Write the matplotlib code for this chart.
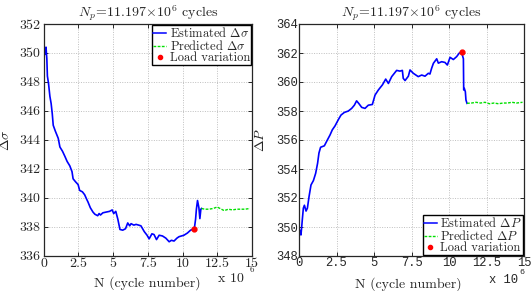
import matplotlib
matplotlib.use("Agg")
import matplotlib.pyplot as plt
from matplotlib.ticker import FixedLocator, FixedFormatter
from matplotlib.lines import Line2D

plt.rcParams['mathtext.fontset'] = 'cm'
plt.rcParams['font.family'] = 'cmr10'
plt.rcParams['axes.formatter.use_mathtext'] = True

# ---------------- data ----------------
title_text = r'$N_p\!=\!11.197\!\times\!10^6$ cycles'

xticks = [0, 2.5, 5, 7.5, 10, 12.5, 15]
xtick_labels = ['0', '2.5', '5', '7.5', '10', '12.5', '15']

# Left: stress range
est_s_x = [0.0, 0.07, 0.12, 0.18, 0.24, 0.28, 0.36, 0.46, 0.55, 0.63, 0.7, 0.85, 1.06, 1.18, 1.37,
           1.54, 1.7, 1.89, 2.05, 2.13, 2.3, 2.49, 2.6, 2.8, 2.96, 3.1, 3.2, 3.37, 3.56, 3.7,
           3.9, 4.0, 4.1, 4.27, 4.5, 4.75, 4.94, 5.05, 5.2, 5.35, 5.5, 5.7, 5.9, 6.06, 6.2,
           6.3, 6.5, 6.66, 6.85, 7.01, 7.25, 7.45, 7.6, 7.8, 7.95, 8.13, 8.32, 8.56, 8.8, 9.04,
           9.2, 9.39, 9.6, 9.75, 10.1, 10.35, 10.58, 10.85, 10.94, 11.0, 11.08, 11.18, 11.25,
           11.32, 11.37]
est_s_y = [350.0, 350.2, 349.9, 350.4, 349.6, 348.4, 347.9, 347.0, 346.5, 345.8, 345.0, 344.6,
           344.1, 343.5, 343.2, 342.85, 342.5, 342.2, 341.8, 341.3, 341.1, 340.9, 340.5, 340.4,
           340.2, 339.9, 339.7, 339.3, 339.0, 338.85, 338.75, 338.9, 338.8, 338.95, 339.0,
           339.05, 339.15, 338.9, 339.05, 338.5, 337.8, 337.75, 337.85, 338.25, 338.05, 338.2,
           338.1, 338.15, 338.1, 338.05, 337.65, 337.4, 337.15, 337.5, 337.45, 337.1, 337.4,
           337.35, 337.2, 336.95, 337.05, 337.0, 337.2, 337.3, 337.4, 337.55, 337.75, 337.85,
           338.5, 339.2, 339.8, 339.3, 338.55, 339.2, 339.25]
pred_s_x = [11.37, 11.6, 11.9, 12.2, 12.5, 12.8, 13.0, 13.3, 13.6, 13.9, 14.2, 14.5, 14.85]
pred_s_y = [339.25, 339.2, 339.2, 339.25, 339.35, 339.2, 339.1, 339.2, 339.15, 339.2, 339.2,
            339.2, 339.25]
load_s_x = [10.85]
load_s_y = [337.85]

# Right: load range
est_p_x = [0.0, 0.07, 0.13, 0.18, 0.22, 0.29, 0.36, 0.47, 0.56, 0.67, 0.8, 0.96, 1.11, 1.24,
           1.33, 1.44, 1.69, 1.84, 2.07, 2.22, 2.4, 2.62, 2.8, 3.02, 3.29, 3.51, 3.69, 3.84,
           4.0, 4.18, 4.4, 4.62, 4.89, 5.07, 5.29, 5.56, 5.78, 5.96, 6.18, 6.51, 6.73, 6.89,
           6.95, 7.07, 7.29, 7.4, 7.62, 7.95, 8.18, 8.4, 8.62, 8.73, 8.84, 8.96, 9.18, 9.29,
           9.51, 9.73, 9.89, 10.07, 10.29, 10.51, 10.69, 10.84, 10.96, 10.98, 11.02, 11.09,
           11.13, 11.2]
est_p_y = [349.9, 349.7, 349.45, 350.0, 350.5, 351.3, 351.5, 351.1, 351.3, 352.1, 352.9, 353.2,
           353.7, 354.4, 355.1, 355.5, 355.6, 355.9, 356.35, 356.7, 356.97, 357.4, 357.72,
           357.9, 358.0, 358.18, 358.4, 358.7, 358.5, 358.25, 358.18, 358.4, 358.45, 359.1,
           359.45, 359.8, 360.2, 359.9, 360.37, 360.8, 360.75, 360.8, 360.25, 360.1, 360.4,
           360.83, 360.6, 360.37, 360.48, 360.4, 360.6, 360.55, 360.94, 361.29, 361.6, 361.3,
           361.4, 361.35, 361.17, 361.7, 361.55, 361.75, 362.0, 362.05, 361.6, 359.45, 359.56,
           359.33, 358.76, 358.53]
pred_p_x = [11.2, 11.5, 11.8, 12.1, 12.4, 12.7, 13.0, 13.3, 13.6, 13.9, 14.2, 14.5, 14.9]
pred_p_y = [358.53, 358.55, 358.6, 358.55, 358.6, 358.5, 358.55, 358.5, 358.55, 358.55, 358.6,
            358.55, 358.6]
load_p_x = [10.84]
load_p_y = [362.05]

yticks_s = [336, 338, 340, 342, 344, 346, 348, 350, 352]
yticks_p = [348, 350, 352, 354, 356, 358, 360, 362, 364]

# ---------------- figure ----------------
W, H = 531, 291
fig = plt.figure(figsize=(W / 100, H / 100), dpi=100)

def px_ax(l, r, t, b):
    return [l / W, 1 - b / H, (r - l) / W, (b - t) / H]

ax1 = fig.add_axes(px_ax(43.5, 252, 24, 255.5))
ax2 = fig.add_axes(px_ax(299, 524, 24, 256))

dark = '#262626'
blue = '#0000ff'
green = '#00e000'
gstyle = (0, (2, 1))

def style(ax, yt, pad):
    ax.set_xlim(0, 15)
    ax.set_ylim(yt[0], yt[-1])
    ax.xaxis.set_major_locator(FixedLocator(xticks))
    ax.yaxis.set_major_locator(FixedLocator(yt))
    ax.grid(True, color='#bfbfbf', linestyle=(0, (1, 1.5)), linewidth=0.7)
    ax.tick_params(direction='in', length=3, width=0.7, top=True, right=True,
                   colors=dark, pad=pad)
    for s in ax.spines.values():
        s.set_color(dark)
        s.set_linewidth(0.9)

style(ax1, yticks_s, 2)
style(ax2, yticks_p, 1)

ax1.xaxis.set_major_formatter(FixedFormatter(xtick_labels))
ax1.yaxis.set_major_formatter(FixedFormatter([str(v) for v in yticks_s]))
for lab in ax1.get_xticklabels() + ax1.get_yticklabels():
    lab.set_fontsize(10)
    lab.set_color(dark)

mono = 'Liberation Mono'
ax2.xaxis.set_major_formatter(FixedFormatter(xtick_labels))
ax2.yaxis.set_major_formatter(FixedFormatter([str(v) for v in yticks_p]))
for lab in ax2.get_xticklabels() + ax2.get_yticklabels():
    lab.set_fontfamily(mono)
    lab.set_fontsize(8.7)
    lab.set_color(dark)

# plots
ax1.plot(est_s_x, est_s_y, color=blue, lw=1.2)
ax1.plot(pred_s_x, pred_s_y, color=green, lw=1.0, linestyle=gstyle)
ax1.plot(load_s_x, load_s_y, 'o', color='red', ms=3.5)

ax2.plot(est_p_x, est_p_y, color=blue, lw=1.2)
ax2.plot(pred_p_x, pred_p_y, color=green, lw=1.0, linestyle=gstyle)
ax2.plot(load_p_x, load_p_y, 'o', color='red', ms=3.5)

for ax in (ax1, ax2):
    ax.set_title(title_text, fontsize=10, color=dark, pad=5)
    ax.set_xlabel('N (cycle number)', fontsize=10, color=dark)

ax1.xaxis.set_label_coords(0.5, -0.09)
ax2.xaxis.set_label_coords(0.484, -0.09)
ax1.set_ylabel(r'$\Delta\sigma$', fontsize=10, color=dark)
ax2.set_ylabel(r'$\Delta P$', fontsize=10, color=dark)
ax1.yaxis.set_label_coords(-0.15, 0.5)
ax2.yaxis.set_label_coords(-0.14, 0.5)

# legends
def legend(ax, sym, loc):
    handles = [Line2D([], [], color=blue, lw=1.1),
               Line2D([], [], color=green, lw=1.0, linestyle=gstyle),
               Line2D([], [], color='red', marker='o', ms=3, lw=0)]
    labels = ['Estimated ' + sym, 'Predicted ' + sym, 'Load variation']
    lg = ax.legend(handles, labels, loc=loc, fontsize=9, frameon=True, fancybox=False,
                   edgecolor='black', framealpha=1, borderpad=0.1, labelspacing=-0.08,
                   handlelength=1.0, handletextpad=0.3, borderaxespad=0.05)
    lg.get_frame().set_linewidth(1.0)
    for t in lg.get_texts():
        t.set_color(dark)
    return lg

legend(ax1, r'$\Delta\sigma$', 'upper right')
legend(ax2, r'$\Delta P$', 'lower right')

# exponent texts
fig.text(218 / W, 1 - 282 / H, 'x 10', fontsize=10, color=dark, va='baseline')
fig.text(250 / W, 1 - 272 / H, '6', fontsize=6.5, color=dark, va='baseline')
fig.text(489 / W, 1 - 283 / H, 'x 10', fontfamily=mono, fontsize=8.7, color=dark, va='baseline')
fig.text(519 / W, 1 - 274 / H, '6', fontfamily=mono, fontsize=6, color=dark, va='baseline')

fig.savefig('out.png', dpi=100)
